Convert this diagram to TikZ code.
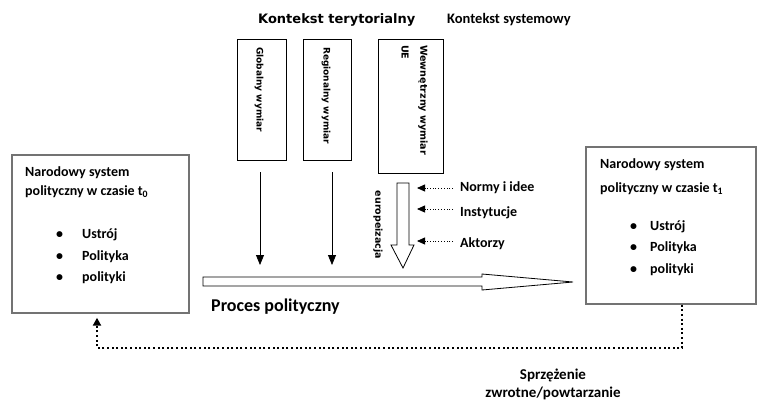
\documentclass[tikz,border=0pt]{standalone}
\usepackage{fontspec}
\setmainfont{Carlito}
\newfontfamily\dv{DejaVu Sans}
\usetikzlibrary{arrows.meta}
\begin{document}
\begin{tikzpicture}[x=1pt,y=-1pt,
  bigbox/.style={draw=black!55, line width=1.4pt, inner sep=0pt},
  vbox/.style={draw=black, line width=0.8pt, inner sep=0pt},
  txt/.style={inner sep=0pt, font=\fontsize{14pt}{16pt}\selectfont\bfseries},
  vtxt/.style={inner sep=0pt, rotate=-90, font=\dv\fontsize{9pt}{11pt}\selectfont\bfseries},
  downarr/.style={draw=black, line width=0.8pt, -{Triangle[width=8pt,length=10pt]}},
  dotarr/.style={draw=black, line width=0.8pt, dotted, -{Triangle[width=7pt,length=8pt]}},
  feedback/.style={draw=black, line width=2pt, dash pattern=on 2pt off 2.6pt, -{Triangle[width=8pt,length=8pt]}},
  hollow/.style={draw=black, line width=0.8pt, fill=white}
]
\useasboundingbox (0,0) rectangle (758,402);

% headers
\node[inner sep=0pt, anchor=west, font=\dv\fontsize{13pt}{15pt}\selectfont\bfseries] (h1) at (258,20) {Kontekst terytorialny};
\node[inner sep=0pt, anchor=west, font=\fontsize{14.5pt}{16pt}\selectfont\bfseries] (h2) at (447,20) {Kontekst systemowy};

% left box
\node[bigbox, minimum width=177pt, minimum height=158pt] (L) at (100.5,234) {};
\node[txt, anchor=west] (L1) at (25,173) {Narodowy system};
\node[txt, anchor=west] (L2) at (25,192) {polityczny w czasie t\textsubscript{0}};
\node[txt, anchor=west] (Lb1) at (56,235) {•};
\node[txt, anchor=west] (Lb2) at (56,257) {•};
\node[txt, anchor=west] (Lb3) at (56,278) {•};
\node[txt, anchor=west] (Li1) at (82,235) {Ustrój};
\node[txt, anchor=west] (Li2) at (82,257) {Polityka};
\node[txt, anchor=west] (Li3) at (82,278) {polityki};

% right box
\node[bigbox, minimum width=170pt, minimum height=157pt] (R) at (671,225.5) {};
\node[txt, anchor=west] (R1) at (600,165) {Narodowy system};
\node[txt, anchor=west] (R2) at (600,189) {polityczny w czasie t\textsubscript{1}};
\node[txt, anchor=west] (Rb1) at (630,227) {•};
\node[txt, anchor=west] (Rb2) at (630,248) {•};
\node[txt, anchor=west] (Rb3) at (630,270) {•};
\node[txt, anchor=west] (Ri1) at (650,227) {Ustrój};
\node[txt, anchor=west] (Ri2) at (650,248) {Polityka};
\node[txt, anchor=west] (Ri3) at (650,270) {polityki};

% vertical boxes
\node[vbox, minimum width=49pt, minimum height=121pt] (G) at (261.5,99.5) {};
\node[vbox, minimum width=48pt, minimum height=121pt] (Rg) at (327,99.5) {};
\node[vbox, minimum width=65pt, minimum height=134pt] (W) at (410.5,106) {};
\node[vtxt, anchor=west] (Gt) at (259,47) {Globalny wymiar};
\node[vtxt, anchor=west] (Rgt) at (326,47) {Regionalny wymiar};
\node[vtxt, anchor=west, font=\dv\fontsize{9.6pt}{11pt}\selectfont\bfseries] (Wt1) at (423,45) {Wewnętrzny wymiar};
\node[vtxt, anchor=west, font=\dv\fontsize{9.6pt}{11pt}\selectfont\bfseries] (Wt2) at (405,45) {UE};

% process arrow
\coordinate (Ptop) at (203,277);
\draw[hollow] (Ptop) -- (482,277) -- (482,274) -- (573,282) -- (482,290) -- (482,286) -- (203,286) -- cycle;
\node[inner sep=0pt, anchor=west, font=\fontsize{18pt}{20pt}\selectfont\bfseries] (P) at (211,307) {Proces polityczny};

% down arrows
\draw[downarr] ([xshift=-1.5pt,yshift=-12pt]G.south) -- ([xshift=-1.5pt,yshift=12pt]G.south |- Ptop);
\draw[downarr] ([xshift=5pt,yshift=-12pt]Rg.south) -- ([xshift=5pt,yshift=12pt]Rg.south |- Ptop);

% europeizacja arrow
\draw[hollow] (397,183) -- (409,183) -- (409,245) -- (414,245) -- (403,268) -- (391,245) -- (397,245) -- cycle;
\node[vtxt, font=\dv\fontsize{9.5pt}{11pt}\selectfont\bfseries] (Et) at (378,225) {europeizacja};

% inputs
\node[txt, anchor=west] (N1) at (460,188) {Normy i idee};
\node[txt, anchor=west] (N2) at (460,213) {Instytucje};
\node[txt, anchor=west] (N3) at (460,244) {Aktorzy};
\draw[dotarr] ([xshift=-7pt]N1.west) -- ([xshift=-43pt]N1.west);
\draw[dotarr] ([xshift=-7pt,yshift=4pt]N2.west) -- ([xshift=-43pt,yshift=4pt]N2.west);
\draw[dotarr] ([xshift=-7pt,yshift=3pt]N3.west) -- ([xshift=-43pt,yshift=3pt]N3.west);

% feedback
\coordinate (fb1) at (682,348);
\coordinate (fb2) at (97,348);
\draw[feedback] ([xshift=11pt]R.south) -- (fb1) -- (fb2) -- ([yshift=-4pt]fb2 |- L.south);
\node[txt, font=\fontsize{15pt}{17pt}\selectfont\bfseries] (S1) at (553,375) {Sprzężenie};
\node[txt, font=\fontsize{15pt}{17pt}\selectfont\bfseries] (S2) at (553,393) {zwrotne/powtarzanie};
\end{tikzpicture}
\end{document}
